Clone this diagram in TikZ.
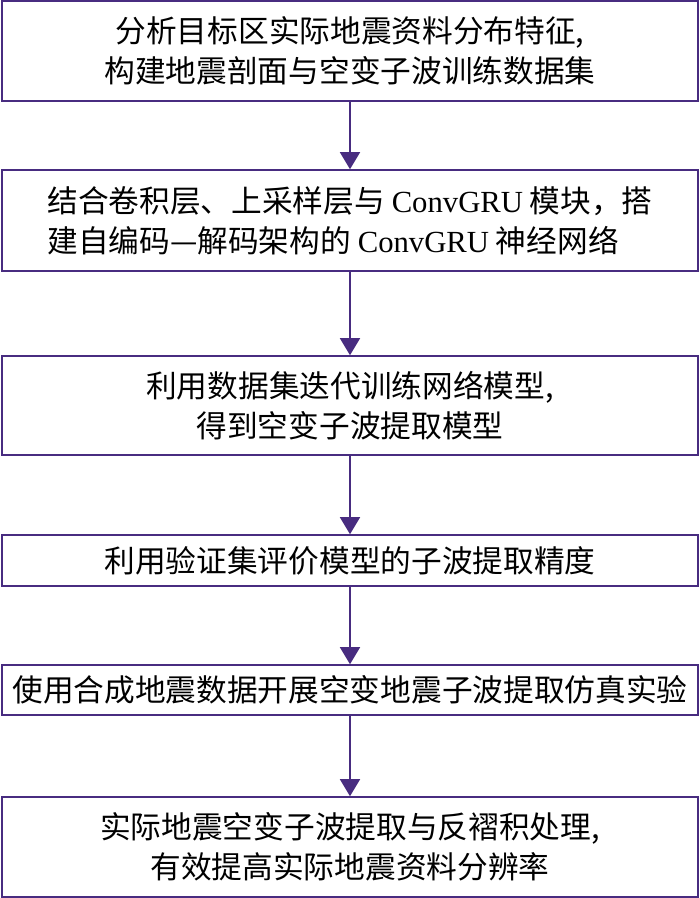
\documentclass[tikz,border=0pt]{standalone}
\usepackage{fontspec}
\setmainfont{Liberation Serif}
\newfontfamily\cjk{Noto Sans CJK SC}
\usepackage{tikz}
\usetikzlibrary{arrows.meta}
\definecolor{flowpurple}{RGB}{72,44,128}
\newcommand{\lat}[1]{{\rmfamily #1}}
\tikzset{
  stepbox/.style={draw=flowpurple,line width=1.6bp,minimum width=696bp,
    align=center,inner sep=0pt,font=\fontsize{30.8}{40}\selectfont\cjk},
  flowarrow/.style={draw=flowpurple,line width=1.6bp,
    -{Triangle[length=17bp,width=20bp]}}
}

\begin{document}
\begin{tikzpicture}[x=1bp,y=1bp,yscale=-1,xscale=1]
      \useasboundingbox (0,0) rectangle (700,898);
      \node[stepbox,minimum height=100bp] (analyse) at (350,51)
            {分析目标区实际地震资料分布特征,\\构建地震剖面与空变子波训练数据集};
      \node[stepbox,minimum height=101bp,align=left] (build) at (350,220.5)
            {结合卷积层、上采样层与 \lat{ConvGRU} 模块，搭\\建自编码—解码架构的 \lat{ConvGRU} 神经网络};
      \node[stepbox,minimum height=99bp] (train) at (350,405.5)
            {利用数据集迭代训练网络模型,\\得到空变子波提取模型};
      \node[stepbox,minimum height=51bp] (verify) at (350,560.5)
            {利用验证集评价模型的子波提取精度};
      \node[stepbox,minimum height=50bp] (simulate) at (350,690)
            {使用合成地震数据开展空变地震子波提取仿真实验};
      \node[stepbox,minimum height=100bp] (apply) at (350,847)
            {实际地震空变子波提取与反褶积处理,\\有效提高实际地震资料分辨率};
      \draw[flowarrow] (analyse) -- (build);
      \draw[flowarrow] (build) -- (train);
      \draw[flowarrow] (train) -- (verify);
      \draw[flowarrow] (verify) -- (simulate);
      \draw[flowarrow] (simulate) -- (apply);
    \end{tikzpicture}
\end{document}
